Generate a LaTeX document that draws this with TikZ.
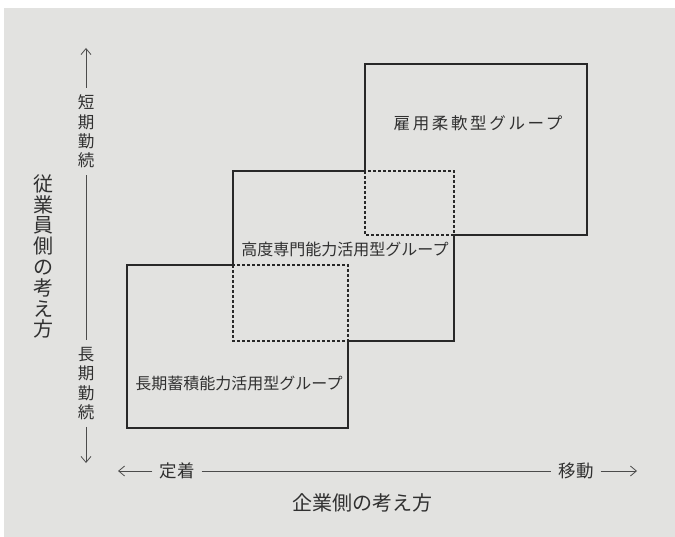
\documentclass[tikz,border=0pt]{standalone}
\usepackage{fontspec}
\newfontfamily\jp{Noto Sans CJK JP}
\usetikzlibrary{arrows.meta}
\definecolor{bgcol}{RGB}{226,226,224}
\definecolor{linecol}{RGB}{40,40,40}
\definecolor{axcol}{RGB}{75,75,75}
\definecolor{txtcol}{RGB}{48,48,48}
\tikzset{
  grp/.style={rectangle, draw=none, inner sep=0pt, outer sep=0pt},
  solidline/.style={draw=linecol, line width=1.5pt, line join=miter},
  dashline/.style={draw=linecol, line width=1.4pt, dash pattern=on 3pt off 2pt},
  axisline/.style={draw=axcol, line width=0.8pt},
  tip/.style={-{Straight Barb[length=6pt,width=10pt,line width=0.8pt]}},
  lbl/.style={text=txtcol, font=\jp\fontsize{16}{19}\selectfont, inner sep=0pt},
  vlbl/.style={text=txtcol, font=\jp\fontsize{16.5}{19.3}\selectfont, align=center, inner xsep=0pt, inner ysep=7pt},
  hlbl/.style={text=txtcol, font=\jp\fontsize{17.5}{20}\selectfont, inner ysep=0pt},
  title/.style={text=txtcol, font=\jp\fontsize{20}{20.8}\selectfont, align=center, inner sep=0pt}
}
\begin{document}
\begin{tikzpicture}[x=1pt,y=-1pt]
\useasboundingbox (0,0) rectangle (675,537);
\fill[white] (0,0) rectangle (675,537);
\fill[bgcol] (4,8) rectangle (675,537);
% group boxes
\node[grp, minimum width=222pt, minimum height=171pt] (b1) at (476,149.5) {};
\node[grp, minimum width=221pt, minimum height=170pt] (b2) at (343.5,256) {};
\node[grp, minimum width=221pt, minimum height=163pt] (b3) at (237.5,346.5) {};
% solid outlines
\draw[solidline] (b1.west |- b2.north) -- (b1.north west) -- (b1.north east) -- (b1.south east) -- (b2.east |- b1.south);
\draw[solidline] (b1.west |- b2.north) -- (b2.north west) -- (b2.west |- b3.north);
\draw[solidline] (b3.east |- b2.south) -- (b2.south east) -- (b2.east |- b1.south);
\draw[solidline] (b2.west |- b3.north) -- (b3.north west) -- (b3.south west) -- (b3.south east) -- (b3.east |- b2.south);
% overlaps
\draw[dashline] (b1.west |- b2.north) rectangle (b2.east |- b1.south);
\draw[dashline] (b2.west |- b3.north) rectangle (b3.east |- b2.south);
% labels
\node[lbl, font=\jp\fontsize{16.5}{19}\selectfont\addfontfeature{LetterSpace=16}] (l1) at (478,123) {雇用柔軟型グループ};
\node[lbl] (l2) at (345,249) {高度専門能力活用型グループ};
\node[lbl] (l3) at (239,383) {長期蓄積能力活用型グループ};
% vertical axis
\coordinate (vtip) at (86,48);
\coordinate (vend) at (86,463);
\node[vlbl] (vs) at (86,131.5) {短\\期\\勤\\続};
\node[vlbl] (vl) at (86,383.5) {長\\期\\勤\\続};
\draw[axisline, tip] (vs.north) -- (vtip);
\draw[axisline] (vs.south) -- (vl.north);
\draw[axisline, tip] (vl.south) -- (vend);
\node[title] (yt) at (44,256.5) {従\\業\\員\\側\\の\\考\\え\\方};
% horizontal axis
\coordinate (hl) at (118,471);
\coordinate (hr) at (637,471);
\node[hlbl, inner xsep=7pt] (hs) at (177,471) {定着};
\node[hlbl, inner xsep=7pt] (hm) at (576,471) {移動};
\draw[axisline, tip] (hs.west) -- (hl);
\draw[axisline] (hs.east) -- (hm.west);
\draw[axisline, tip] (hm.east) -- (hr);
\node[title] (xt) at (362,503) {企業側の考え方};
\end{tikzpicture}
\end{document}
